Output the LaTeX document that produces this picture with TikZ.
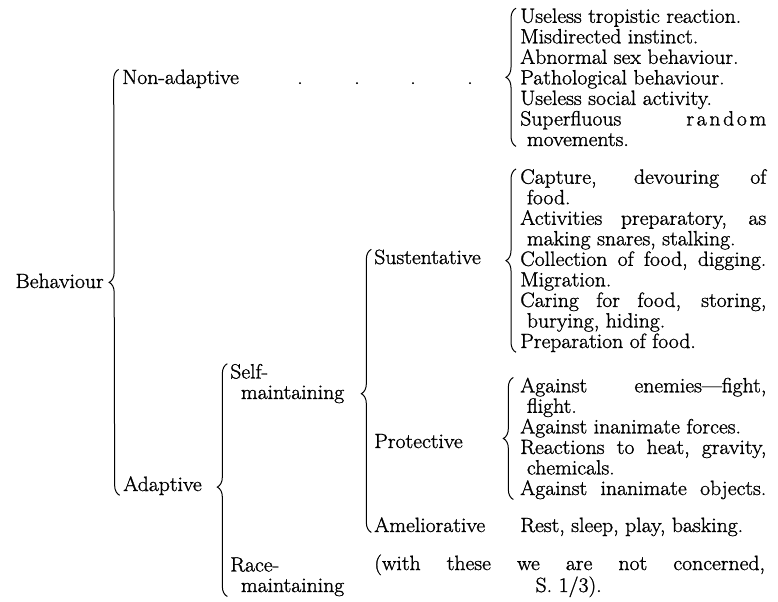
\documentclass[tikz,border=0pt]{standalone}
\usepackage{fontspec}
\setmainfont{Latin Modern Roman}[FakeStretch=1.05,FakeBold=1.2]
\usepackage{tikz}
\usetikzlibrary{decorations.pathreplacing}

\newlength{\colw}
\setlength{\colw}{184.5pt}
\newcommand{\jline}[1]{\makebox[\colw][s]{#1}}
\newcommand{\hang}{\hspace*{5pt}}

\begin{document}
\begin{tikzpicture}[x=0.75pt,y=0.75pt,yscale=-1,xscale=1,
  every node/.style={inner sep=0pt,font=\fontsize{15.5}{15.4}\selectfont},
  txt/.style={anchor=base west},
  grp/.style={anchor=base west,align=left},
  bracket/.style={decorate,decoration={brace,amplitude=7.5pt},line width=0.75pt}]
\path [use as bounding box] (0,0) rectangle (778,602);

% Text Node
\node [anchor=base east] (behav) at (104,288) {Behaviour};
% Text Node
\node [txt] (nonad) at (122,84) {Non-adaptive};
% Text Node
\node [txt] (adapt) at (123,491) {Adaptive};
% Dots
\node [anchor=base] (dota) at (300,84) {.};
\node [anchor=base] (dotb) at (357,84) {.};
\node [anchor=base] (dotc) at (413,84) {.};
\node [anchor=base] (dotd) at (470,84) {.};
% Text Node (base = last line)
\node [grp] (selfm) at (230,399) {Self-\\\hspace*{8pt}maintaining};
% Text Node
\node [grp] (racem) at (230,592) {Race-\\\hspace*{8pt}maintaining};
% Text Node
\node [txt] (sust) at (374,264) {Sustentative};
% Text Node
\node [txt] (prot) at (374,448) {Protective};
% Text Node
\node [txt] (amel) at (374,532) {Ameliorative};

% Lists
\node [grp] (nonlist) at (520,146) {Useless tropistic reaction.\\
  Misdirected instinct.\\
  Abnormal sex behaviour.\\
  Pathological behaviour.\\
  Useless social activity.\\
  \hbox to \colw{Superfluous\hfill r\kern2pt a\kern2pt n\kern2pt d\kern2pt o\kern2pt m}\\
  \hang movements.};
\node [grp] (sustlist) at (520,348) {\jline{Capture, devouring of}\\
  \hang food.\\
  \jline{Activities preparatory, as}\\
  \hang making snares, stalking.\\
  \jline{Collection\hfill of\hfill food,\hfill digging.}\\
  Migration.\\
  \jline{Caring for food, storing,}\\
  \hang burying, hiding.\\
  Preparation of food.};
\node [grp] (protlist) at (520,495) {\jline{Against enemies---fight,}\\
  \hang flight.\\
  Against inanimate forces.\\
  \jline{Reactions\hfill to\hfill heat,\hfill gravity,}\\
  \hang chemicals.\\
  \jline{Against\hfill inanimate\hfill objects.}};
\node [txt] (rest) at (520,532) {Rest, sleep, play, basking.};
\node [grp] (racenote) at (374,592) {\makebox[293pt][s]{(with these we are not concerned,}\\
  \hspace*{121pt}S. 1/3).};

%Shape: Brace
\draw [bracket] ([xshift=-2.5pt]adapt.south west) -- ([xshift=-2.5pt]nonad.north west);
%Shape: Brace
\draw [bracket,decoration={aspect=0.47}] ([xshift=-2pt]racem.south west) -- ([xshift=-2pt]selfm.north west);
%Shape: Brace
\draw [bracket,decoration={aspect=0.49}] ([xshift=-2pt]amel.south west) -- ([xshift=-2pt]sust.north west);
%Shape: Brace
\draw [bracket] ([xshift=-3pt]nonlist.south west) -- ([xshift=-3pt]nonlist.north west);
%Shape: Brace
\draw [bracket] ([xshift=-3pt]sustlist.south west) -- ([xshift=-3pt]sustlist.north west);
%Shape: Brace
\draw [bracket] ([xshift=-5pt]protlist.south west) -- ([xshift=-5pt]protlist.north west);

\end{tikzpicture}
\end{document}
